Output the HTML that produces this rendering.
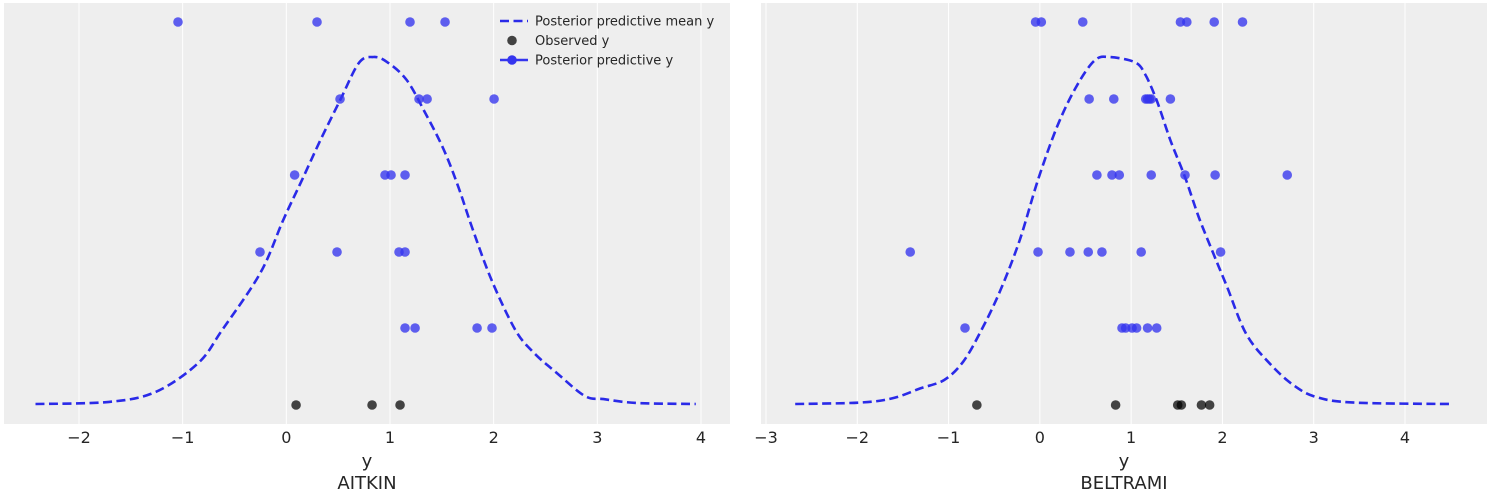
<!DOCTYPE html>
<html><head><meta charset="utf-8"><style>
body{margin:0;background:#fff}
svg{display:block;font-family:"DejaVu Sans","Liberation Sans",sans-serif}
</style></head><body>
<svg id="fig" width="1490" height="496" viewBox="0 0 1490 496"></svg>
<script>
// ---- AITKIN data ----
const aitkinTicks = [-2,-1,0,1,2,3,4];
const aitkinPP = [
  [-1.045,0.296,1.193,1.531],
  [0.518,1.28,1.358,2.004],
  [0.08,0.952,1.01,1.145],
  [-0.254,0.489,1.087,1.145],
  [1.145,1.242,1.84,1.984]
];
const aitkinObs = [0.094,0.827,1.097];
const aitkinKdeX = [-2.42,-1.71,-1.26,-0.85,-0.62,-0.25,-0.03,0.15,0.33,0.52,0.70,0.84,0.97,1.16,1.34,1.52,1.66,1.79,1.98,2.21,2.39,2.61,2.88,3.06,3.38,3.95];
const aitkinKdeY = [0,0.006,0.035,0.118,0.213,0.378,0.53,0.645,0.761,0.876,0.983,1.0,0.986,0.934,0.839,0.732,0.625,0.51,0.357,0.213,0.147,0.089,0.023,0.014,0.003,0];
// ---- BELTRAMI data ----
const beltramiTicks = [-3,-2,-1,0,1,2,3,4];
const beltramiPP = [
  [-0.047,0.016,0.47,1.54,1.61,1.91,2.22],
  [0.54,0.81,1.16,1.18,1.20,1.22,1.43],
  [0.625,0.79,0.87,1.22,1.59,1.92,2.71],
  [-1.42,-0.02,0.33,0.53,0.68,1.11,1.98],
  [-0.82,0.90,0.94,1.01,1.06,1.18,1.28]
];
const beltramiObs = [-0.69,0.83,1.51,1.55,1.77,1.86];
const beltramiKdeX = [-2.68,-1.98,-1.62,-1.31,-1.05,-0.84,-0.64,-0.43,-0.22,-0.02,0.19,0.40,0.60,0.76,1.04,1.15,1.28,1.43,1.59,1.74,1.90,2.05,2.26,2.52,2.78,3.03,3.45,4.53];
const beltramiKdeY = [0,0.004,0.016,0.045,0.069,0.122,0.213,0.329,0.473,0.646,0.80,0.915,0.99,1.0,0.985,0.952,0.875,0.76,0.654,0.539,0.434,0.338,0.202,0.116,0.054,0.02,0.004,0];
const rowY = [22,99,175,252,328];

const NS="http://www.w3.org/2000/svg";
const svg=document.getElementById('fig');
function mk(tag,attrs,parent){const e=document.createElementNS(NS,tag);for(const k in attrs)e.setAttribute(k,attrs[k]);(parent||svg).appendChild(e);return e;}

function smoothPath(pts){
  let d='M'+pts[0][0].toFixed(1)+','+pts[0][1].toFixed(1);
  for(let i=0;i<pts.length-1;i++){
    const p0=pts[i-1]||pts[i],p1=pts[i],p2=pts[i+1],p3=pts[i+2]||p2;
    const c1=[p1[0]+(p2[0]-p0[0])/6,p1[1]+(p2[1]-p0[1])/6];
    const c2=[p2[0]-(p3[0]-p1[0])/6,p2[1]-(p3[1]-p1[1])/6];
    d+='C'+c1[0].toFixed(1)+','+c1[1].toFixed(1)+' '+c2[0].toFixed(1)+','+c2[1].toFixed(1)+' '+p2[0].toFixed(1)+','+p2[1].toFixed(1);
  }
  return d;
}

function panel(name,left,right,x0px,x1px,v0,v1,ticks,pp,obs,kx,ky,title){
  const g=mk('g',{});
  
  
  const sx=v=>x0px+(v-v0)*(x1px-x0px)/(v1-v0);
  const base=404, peak=57;
  const sy=d=>base-d*(base-peak);
  const bg=mk('rect',{x:left,y:3,width:right-left,height:421,fill:'#eeeeee'},g);
  
  
  ticks.forEach(t=>{
    const x=sx(t);
    const gl=mk('line',{x1:x,x2:x,y1:3,y2:424,stroke:'#ffffff','stroke-width':1},g);
    
    
    const tl=mk('text',{x:x,y:443,'text-anchor':'middle','font-size':16,fill:'#262626'},g);
    tl.textContent=(t<0?'\u2212'+(-t):String(t));
    
    
  });
  const pts=kx.map((v,i)=>[sx(v),sy(ky[i])]);
  const ln=mk('path',{d:smoothPath(pts),fill:'none',stroke:'#2a2ae8','stroke-width':2.6,'stroke-dasharray':'9,4.5','stroke-linejoin':'round'},g);
  
  
  pp.forEach((row,r)=>row.forEach(v=>{
    const c=mk('circle',{cx:sx(v),cy:rowY[r],r:4.8,fill:'#3535ee','fill-opacity':0.78},g);
    
    
  }));
  obs.forEach(v=>{
    const c=mk('circle',{cx:sx(v),cy:405,r:4.8,fill:'#000000','fill-opacity':0.72},g);
    
    
  });
  const cx=(left+right)/2;
  const xl=mk('text',{x:cx,y:467,'text-anchor':'middle','font-size':18,fill:'#262626'},g);
  xl.textContent='y';
  
  
  const tt=mk('text',{x:cx,y:489,'text-anchor':'middle','font-size':18,fill:'#262626'},g);
  tt.textContent=title;
  
  
}
panel('aitkin',4,730,79,701,-2,4,aitkinTicks,aitkinPP,aitkinObs,aitkinKdeX,aitkinKdeY,'AITKIN');
panel('beltrami',761,1487,766,1405,-3,4,beltramiTicks,beltramiPP,beltramiObs,beltramiKdeX,beltramiKdeY,'BELTRAMI');

// legend
const lg=mk('g',{});


const items=[['Posterior predictive mean y','dash'],['Observed y','obs'],['Posterior predictive y','pp']];
items.forEach((it,i)=>{
  const y=21+i*19.5;
  const e=mk('g',{},lg);
  
  
  if(it[1]==='dash'){mk('line',{x1:500,x2:528,y1:y,y2:y,stroke:'#2a2ae8','stroke-width':2.6,'stroke-dasharray':'9,4.5'},e);}
  else if(it[1]==='obs'){mk('circle',{cx:512,cy:y,r:4.8,fill:'#000','fill-opacity':0.72},e);}
  else {mk('line',{x1:500,x2:528,y1:y,y2:y,stroke:'#3535ee','stroke-width':2.6},e);mk('circle',{cx:512,cy:y,r:4.8,fill:'#3535ee'},e);}
  const t=mk('text',{x:535,y:y+4.5,'font-size':13,fill:'#262626'},e);
  t.textContent=it[0];
});
</script>
</body></html>
